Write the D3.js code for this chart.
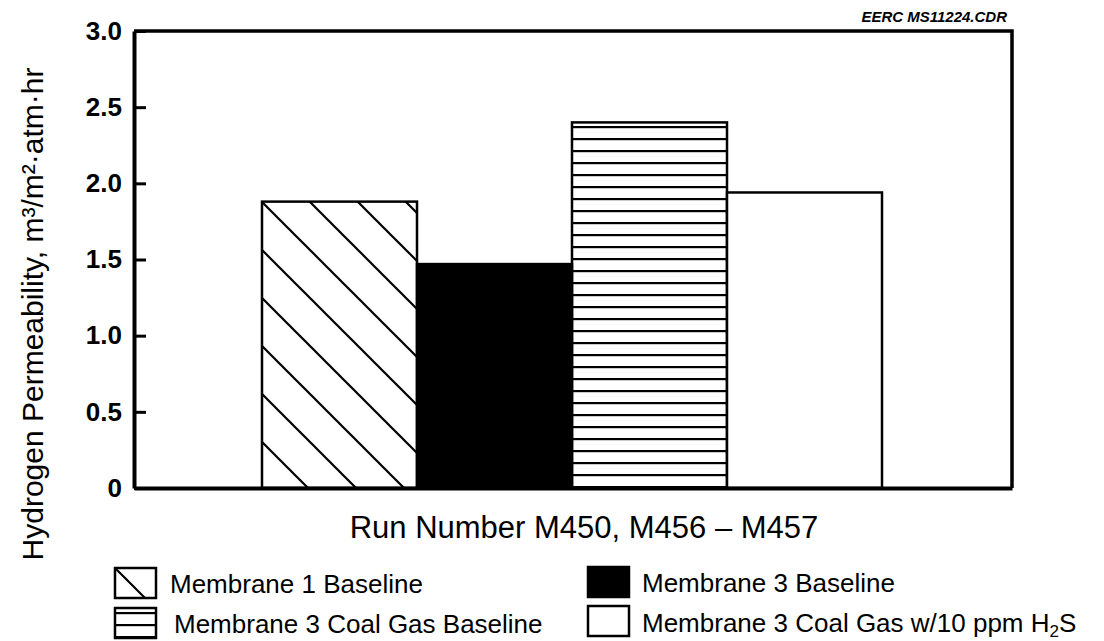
<!DOCTYPE html>
<html>
<head>
<meta charset="utf-8">
<script src="https://cdn.jsdelivr.net/npm/d3@7"></script>
<style>
  html, body { margin: 0; padding: 0; background: #fff; }
  svg { display: block; font-family: "Liberation Sans", Arial, Helvetica, sans-serif; }
</style>
</head>
<body>
<svg id="chart" width="1104" height="641"></svg>
<script>
// Hydrogen permeability per run
const categories = ["Membrane 1 Baseline", "Membrane 3 Baseline", "Membrane 3 Coal Gas Baseline", "Membrane 3 Coal Gas w/10 ppm H2S"];
const values = [1.88, 1.47, 2.40, 1.94];
const yTicks = [0, 0.5, 1.0, 1.5, 2.0, 2.5, 3.0];
const yTickLabels = ["0", "0.5", "1.0", "1.5", "2.0", "2.5", "3.0"];
const legendOrder = [0, 1, 2, 3];

const svg = d3.select("#chart");
const plotLeft = 134, plotRight = 1012, plotTop = 31, plotBottom = 488;

const y = d3.scaleLinear().domain([0, 3]).range([plotBottom, plotTop]);
const x = d3.scaleBand().domain(categories).range([262, 882]).padding(0);

// fill patterns: diagonal hatch, solid black, horizontal stripes, empty
const defs = svg.append("defs");
function diagPattern(id, ox, oy) {
  const p = defs.append("pattern").attr("id", id)
    .attr("patternUnits", "userSpaceOnUse")
    .attr("x", ox).attr("y", oy).attr("width", 48).attr("height", 48);
  p.append("path")
    .attr("d", "M-4,-4L52,52M-4,44L4,52M44,-4L52,4")
    .attr("stroke", "#000").attr("stroke-width", 2.2).attr("fill", "none");
}
function stripePattern(id, oy) {
  const p = defs.append("pattern").attr("id", id)
    .attr("patternUnits", "userSpaceOnUse")
    .attr("x", 0).attr("y", oy).attr("width", 20).attr("height", 12);
  p.append("rect").attr("x", 0).attr("y", -1).attr("width", 20).attr("height", 2.2).attr("fill", "#000");
  p.append("rect").attr("x", 0).attr("y", 11).attr("width", 20).attr("height", 2.2).attr("fill", "#000");
}
diagPattern("hatch", 12, 0);
stripePattern("stripes", 7);
diagPattern("hatchKey", 115, 568);
stripePattern("stripesKey", 613);

const barFill = ["url(#hatch)", "#000", "url(#stripes)", "#fff"];
const keyFill = ["url(#hatchKey)", "#000", "url(#stripesKey)", "#fff"];

// bars
svg.append("g").selectAll("rect")
  .data(values)
  .join("rect")
  .attr("x", (d, i) => x(categories[i]))
  .attr("y", d => y(d))
  .attr("width", x.bandwidth())
  .attr("height", d => y(0) - y(d))
  .attr("fill", (d, i) => barFill[i])
  .attr("stroke", "#000")
  .attr("stroke-width", 2.5);

// frame: top and right edges
svg.append("path")
  .attr("d", `M${plotLeft},${plotTop}H${plotRight}V${plotBottom}`)
  .attr("fill", "none").attr("stroke", "#000").attr("stroke-width", 3.5);

// bottom axis line
const xAxis = d3.axisBottom(d3.scaleLinear().range([plotLeft, plotRight])).tickValues([]).tickSizeOuter(0);
const gx = svg.append("g").attr("transform", `translate(0,${plotBottom})`).call(xAxis);
gx.select(".domain").attr("stroke", "#000").attr("stroke-width", 4);

// left axis with inward ticks
const yAxis = d3.axisLeft(y)
  .tickValues(yTicks)
  .tickFormat((d, i) => yTickLabels[i])
  .tickSizeInner(-12)
  .tickSizeOuter(0)
  .tickPadding(12);
const gy = svg.append("g").attr("transform", `translate(${plotLeft},0)`).call(yAxis);
gy.select(".domain").attr("stroke", "#000").attr("stroke-width", 4);
gy.selectAll(".tick line").attr("stroke", "#000").attr("stroke-width", 3);
gy.selectAll(".tick text")
  .attr("fill", "#000")
  .attr("font-size", 26)
  .attr("font-weight", "bold")
  .attr("font-family", "\"Liberation Sans\", Arial, sans-serif");

// axis titles
svg.append("text")
  .attr("x", 584).attr("y", 538)
  .attr("text-anchor", "middle")
  .attr("font-size", 31)
  .text("Run Number M450, M456 \u2013 M457");

svg.append("text")
  .attr("transform", "translate(43,314) rotate(-90)")
  .attr("text-anchor", "middle")
  .attr("font-size", 30)
  .text("Hydrogen Permeability, m\u00B3/m\u00B2\u00B7atm\u00B7hr");

// drawing reference tag
svg.append("text")
  .attr("x", 1007).attr("y", 22)
  .attr("text-anchor", "end")
  .attr("font-size", 15)
  .attr("font-weight", "bold")
  .attr("font-style", "italic")
  .text("EERC MS11224.CDR");

// legend (two columns, two rows)
const keyBoxX = [115, 588, 115, 588];
const keyBoxY = [568, 567, 608, 606];
const keyTextX = [170, 642, 174, 642];
const keyTextY = [593, 592, 633, 632];
const legend = svg.append("g");
legendOrder.forEach(i => {
  legend.append("rect")
    .attr("x", keyBoxX[i]).attr("y", keyBoxY[i])
    .attr("width", 41).attr("height", 30)
    .attr("fill", keyFill[i])
    .attr("stroke", "#000").attr("stroke-width", 2.5);
  const t = legend.append("text")
    .attr("x", keyTextX[i]).attr("y", keyTextY[i])
    .attr("font-size", 26);
  const label = categories[i];
  if (label.endsWith("H2S")) {
    t.append("tspan").text(label.slice(0, -2));
    t.append("tspan").attr("font-size", 17).attr("dy", 5).text("2");
    t.append("tspan").attr("dy", -5).text("S");
  } else {
    t.text(label);
  }
});
</script>
</body>
</html>
